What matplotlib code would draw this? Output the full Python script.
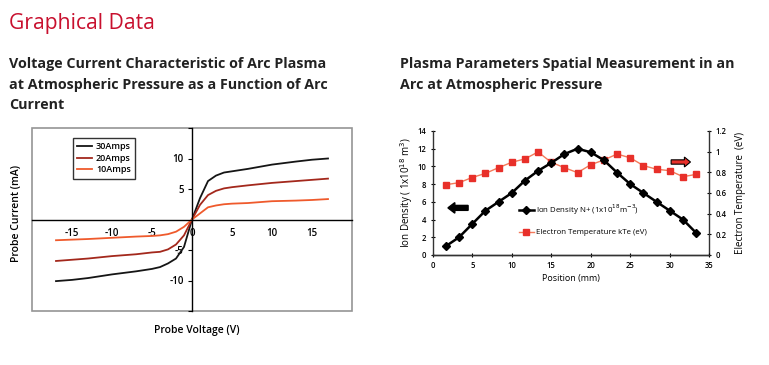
import matplotlib
matplotlib.use("Agg")
import matplotlib.pyplot as plt
from matplotlib.patches import Rectangle, FancyArrow

plt.rcParams['font.family'] = ['Open Sans', 'DejaVu Sans']

# ---- Left chart data: probe voltage vs probe current ----
voltage = [-17, -15, -13, -10, -7, -5, -4, -3, -2, -1, 0, 1, 2, 3, 4, 5, 7, 10, 13, 15, 17]
amps30 = [-10.1, -9.9, -9.6, -9.0, -8.5, -8.1, -7.8, -7.2, -6.4, -4.5, 0, 3.5, 6.3, 7.2, 7.7, 7.9, 8.3, 9.0, 9.5, 9.8, 10.0]
amps20 = [-6.8, -6.6, -6.4, -6.0, -5.7, -5.4, -5.3, -4.9, -4.1, -2.6, 0, 2.4, 4.0, 4.7, 5.1, 5.3, 5.6, 6.0, 6.3, 6.5, 6.7]
amps10 = [-3.4, -3.3, -3.2, -3.0, -2.8, -2.7, -2.6, -2.4, -2.0, -1.2, 0, 1.0, 2.0, 2.3, 2.5, 2.6, 2.7, 3.0, 3.1, 3.2, 3.35]
left_xticks = [-15, -10, -5, 0, 5, 10, 15]
left_yticks = [-10, -5, 5, 10]

# ---- Right chart data: spatial measurement ----
position = [1.67, 3.33, 5, 6.67, 8.33, 10, 11.67, 13.33, 15, 16.67, 18.33, 20,
            21.67, 23.33, 25, 26.67, 28.33, 30, 31.67, 33.33]
ion_density = [1.0, 2.0, 3.5, 5.0, 6.0, 7.0, 8.4, 9.5, 10.4, 11.4, 12.0, 11.6,
               10.7, 9.3, 8.0, 7.0, 6.0, 5.0, 4.0, 2.5]
electron_temp = [0.68, 0.70, 0.75, 0.79, 0.845, 0.897, 0.93, 0.997, 0.897, 0.845, 0.797, 0.874,
                 0.92, 0.977, 0.94, 0.865, 0.83, 0.816, 0.758, 0.78]

W, H = 769, 365
fig = plt.figure(figsize=(W / 100, H / 100), dpi=100)

def fx(px):
    return px / W

def fy(py):
    return 1 - py / H

red = '#c8102e'
fig.text(fx(9), fy(13), 'Graphical Data', color=red, fontsize=15.2, va='top', ha='left')
fig.text(fx(9), fy(57), 'Voltage Current Characteristic of Arc Plasma\nat Atmospheric Pressure as a Function of Arc\nCurrent',
         fontsize=10.3, fontweight='bold', color='#222222', va='top', ha='left', linespacing=1.6)
fig.text(fx(400), fy(57), 'Plasma Parameters Spatial Measurement in an\nArc at Atmospheric Pressure',
         fontsize=10.3, fontweight='bold', color='#222222', va='top', ha='left', linespacing=1.6)

# ---------------- Left chart ----------------
ax1 = fig.add_axes([fx(32), fy(311), fx(352 - 32), (311 - 128) / H])
ax1.plot(voltage, amps30, color='#151515', lw=1.3, label='30Amps')
ax1.plot(voltage, amps20, color='#a3281c', lw=1.3, label='20Amps')
ax1.plot(voltage, amps10, color='#ef5a2c', lw=1.3, label='10Amps')
ax1.set_xlim(-20, 20)
ax1.set_ylim(-15, 15)
for s in ['top', 'right']:
    ax1.spines[s].set_visible(False)
ax1.spines['left'].set_position(('data', 0))
ax1.spines['bottom'].set_position(('data', 0))
ax1.spines['left'].set_linewidth(1.0)
ax1.spines['bottom'].set_linewidth(1.0)
ax1.add_patch(Rectangle((0, 0), 1, 1, transform=ax1.transAxes, fill=False,
                        edgecolor='#959595', lw=1.2, clip_on=False, zorder=0))
ax1.set_xticks(left_xticks)
ax1.set_xticklabels([str(v) for v in left_xticks])
ax1.set_yticks(left_yticks + [-15, 15])
ax1.set_yticklabels([str(v) for v in left_yticks] + ['', ''])
ax1.tick_params(axis='x', length=0, pad=6, labelsize=7)
ax1.tick_params(axis='y', length=3, width=0.8, direction='out', pad=3, labelsize=7)
for lab in ax1.get_xticklabels() + ax1.get_yticklabels():
    lab.set_fontweight('semibold')
fig.text(fx(17), fy(213), 'Probe Current (mA)', rotation=90, fontsize=7.5,
         fontweight='semibold', va='center', ha='center')
fig.text(fx(197), fy(331), 'Probe Voltage (V)', fontsize=7.5,
         fontweight='semibold', va='center', ha='center')
leg1 = ax1.legend(loc='upper left', bbox_to_anchor=((73 - 32) / 320, (311 - 138) / 183),
                  borderaxespad=0, frameon=True, fancybox=False, fontsize=6.5,
                  handlelength=1.6, borderpad=0.45, labelspacing=0.3, handletextpad=0.5)
leg1.get_frame().set_edgecolor('black')
leg1.get_frame().set_linewidth(1.0)
for t in leg1.get_texts():
    t.set_fontweight('semibold')

# ---------------- Right chart ----------------
ax2 = fig.add_axes([fx(432.7), fy(255), fx(709.3 - 432.7), (255 - 131) / H])
ax3 = ax2.twinx()
l1, = ax2.plot(position, ion_density, color='black', lw=1.8, marker='D', markersize=4.5,
               label='Ion Density N+ (1x10$^{18}$m$^{-3}$)', zorder=3)
l2, = ax3.plot(position, electron_temp, color='#f47a5a', lw=1.0, marker='s', markersize=5,
               markerfacecolor='#e8302a', markeredgecolor='#e8302a',
               label='Electron Temperature kTe (eV)')
ax2.set_zorder(ax3.get_zorder() + 1)
ax2.patch.set_visible(False)
ax2.set_xlim(0, 35)
ax2.set_ylim(0, 14)
ax3.set_ylim(0, 1.2)
ax2.set_xticks(range(0, 36, 5))
ax2.set_yticks(range(0, 15, 2))
ax3.set_yticks([0, 0.2, 0.4, 0.6, 0.8, 1.0, 1.2])
ax3.set_yticklabels(['0', '0.2', '0.4', '0.6', '0.8', '1', '1.2'])
for a in (ax2, ax3):
    a.spines['top'].set_visible(False)
    for s in ['left', 'right', 'bottom']:
        a.spines[s].set_color('#333333')
        a.spines[s].set_linewidth(1.0)
ax3.spines['left'].set_visible(False)
ax2.spines['right'].set_visible(False)
ax2.tick_params(axis='both', labelsize=5.5, length=3, width=0.8, direction='inout', pad=3)
ax3.tick_params(axis='y', labelsize=5.5, length=3, width=0.8, direction='inout', pad=3)
for lab in ax2.get_xticklabels() + ax2.get_yticklabels() + ax3.get_yticklabels():
    lab.set_fontweight('semibold')
ax2.set_xlabel('Position (mm)', fontsize=6.5, labelpad=3)
ax2.set_ylabel('Ion Density ( 1x10$^{18}$ m$^{3}$)', fontsize=7, labelpad=2)
ax3.set_ylabel('Electron Temperature  (eV)', fontsize=7, labelpad=6)
leg2 = ax2.legend([l1, l2], [l1.get_label(), l2.get_label()], loc='upper left',
                  bbox_to_anchor=(0.285, 0.48), frameon=False, fontsize=5.7,
                  handlelength=1.9, labelspacing=1.5, handletextpad=0.3, markerscale=0.8)

# direction arrows
ax2.add_patch(FancyArrow(0.128, 0.38, -0.073, 0, width=0.04, head_width=0.085,
                         head_length=0.025, length_includes_head=True,
                         transform=ax2.transAxes, color='black', clip_on=False))
ax2.add_patch(FancyArrow(0.862, 0.75, 0.07, 0, width=0.035, head_width=0.08,
                         head_length=0.022, length_includes_head=True,
                         transform=ax2.transAxes, facecolor='#e8302a',
                         edgecolor='black', lw=0.8, clip_on=False))

fig.savefig('out.png', dpi=100)
